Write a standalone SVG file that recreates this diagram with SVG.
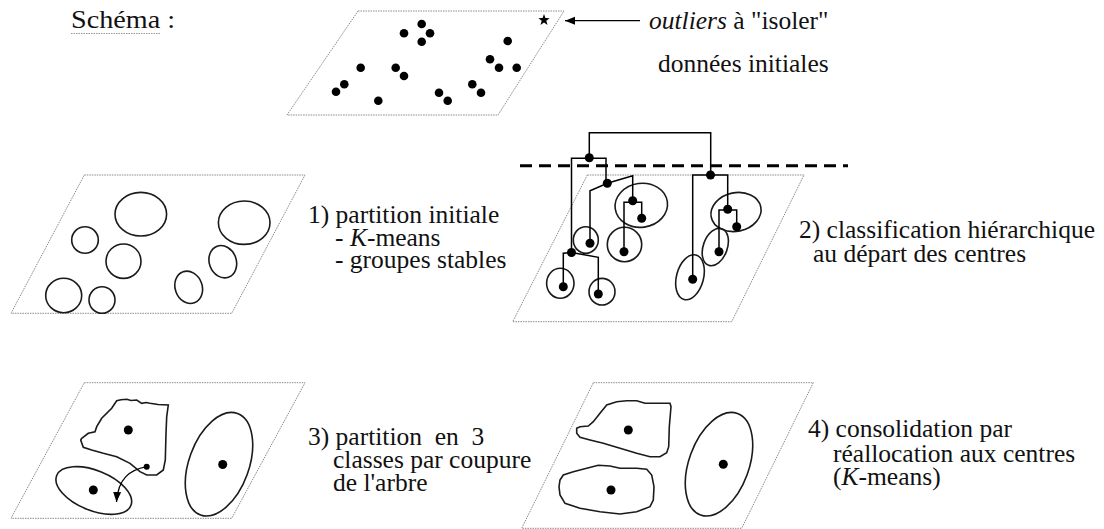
<svg xmlns="http://www.w3.org/2000/svg" width="1104" height="529" viewBox="0 0 1104 529">
<style>
.t{font-family:"Liberation Serif","Times New Roman",serif;font-size:25.5px;fill:#111}
.it{font-style:italic}
.plane{fill:none;stroke:#8a8a8a;stroke-width:1;stroke-dasharray:1.5 1}
.cl{fill:none;stroke:#1a1a1a;stroke-width:1.6}
.dot{fill:#000}
.dl{fill:none;stroke:#000;stroke-width:1.5}
</style>
<defs>
<marker id="arr" markerUnits="userSpaceOnUse" markerWidth="11" markerHeight="9" refX="10" refY="4" orient="auto">
<path d="M0,0 L10,4 L0,8 z" fill="#000"/>
</marker>
</defs>
<g id="title">
<text class="t" x="71" y="28" font-size="26" textLength="104" lengthAdjust="spacingAndGlyphs">Schéma :</text>
<line x1="71" y1="33.5" x2="160" y2="33.5" stroke="#999" stroke-width="1" stroke-dasharray="1.5 1"/>
</g>
<g id="data-initial">
<polygon class="plane" points="358,11 564,11 498,115 287,115"/>
<g class="dot">
<circle cx="421.7" cy="24" r="4.3"/><circle cx="404" cy="33.3" r="4.3"/><circle cx="430" cy="33.3" r="4.3"/><circle cx="421.7" cy="41.7" r="4.3"/>
<circle cx="360.7" cy="67.7" r="4.3"/><circle cx="395.7" cy="67.7" r="4.3"/><circle cx="404" cy="76" r="4.3"/>
<circle cx="490" cy="59.3" r="4.3"/><circle cx="507.7" cy="41" r="4.3"/><circle cx="499" cy="67.7" r="4.3"/><circle cx="516.7" cy="67.7" r="4.3"/>
<circle cx="344.3" cy="84.3" r="4.3"/><circle cx="336" cy="91.7" r="4.3"/><circle cx="378.3" cy="100.7" r="4.3"/>
<circle cx="439" cy="92.7" r="4.3"/><circle cx="447.7" cy="100.7" r="4.3"/><circle cx="472.3" cy="84.3" r="4.3"/><circle cx="481" cy="92.7" r="4.3"/>
</g>
<polygon fill="#000" points="544,14 545.4,18.1 549.7,18.15 546.3,20.74 547.5,24.9 544,22.4 540.5,24.9 541.7,20.74 538.3,18.15 542.6,18.1"/>
</g>
<g id="label-outliers">
<text class="t" x="649" y="29"><tspan class="it">outliers</tspan> à "isoler"</text>
<text class="t" x="658" y="72">données initiales</text>
</g>
<g id="panel-1">
<polygon class="plane" points="84.3,175 305,175 231.7,313.3 11,313.3"/>
<ellipse class="cl" cx="140.8" cy="214.2" rx="25.8" ry="21.8"/>
<ellipse class="cl" cx="85" cy="240" rx="13.3" ry="13.3"/>
<ellipse class="cl" cx="123.5" cy="261.2" rx="17.5" ry="17.2"/>
<ellipse class="cl" cx="63.7" cy="295.5" rx="18" ry="17.2"/>
<ellipse class="cl" cx="102" cy="300" rx="13" ry="13.3"/>
<ellipse class="cl" cx="244.2" cy="222.7" rx="25.8" ry="21.7"/>
<ellipse class="cl" cx="222.8" cy="261.7" rx="13.5" ry="16.5" transform="rotate(-20 222.8 261.7)"/>
<ellipse class="cl" cx="188.7" cy="287.3" rx="13.5" ry="16.5" transform="rotate(-20 188.7 287.3)"/>
</g>
<g id="label-1">
<text class="t" x="308" y="223">1) partition initiale</text>
<text class="t" x="335" y="245.5">- <tspan class="it">K</tspan>-means</text>
<text class="t" x="335" y="268">- groupes stables</text>
</g>
<g id="panel-2">
<polygon class="plane" points="587.3,175 804,175 731.7,321.7 512.7,321.7"/>
<ellipse class="cl" cx="641.3" cy="205.3" rx="26.3" ry="22" transform="rotate(-8 641.3 205.3)"/>
<ellipse class="cl" cx="585.8" cy="240" rx="12.5" ry="13.3"/>
<ellipse class="cl" cx="624.5" cy="244.5" rx="17.2" ry="17.2"/>
<ellipse class="cl" cx="560.3" cy="283.3" rx="13.7" ry="15"/>
<ellipse class="cl" cx="602" cy="291.7" rx="13" ry="13.3"/>
<ellipse class="cl" cx="736" cy="212" rx="25.3" ry="19.3" transform="rotate(-12 736 212)"/>
<ellipse class="cl" cx="715.3" cy="247" rx="12" ry="19.5" transform="rotate(20 715.3 247)"/>
<ellipse class="cl" cx="690" cy="277.3" rx="13.5" ry="23" transform="rotate(15 690 277.3)"/>
</g>
<g id="dendrogram">
<line x1="520" y1="165.7" x2="848" y2="165.7" stroke="#000" stroke-width="3" stroke-dasharray="12 7"/>
<path class="dl" d="M589.3,157.7 V132.7 H710.7 V175"/>
<path class="dl" d="M571.5,252.5 V158.3 H606 V183.3"/>
<path class="dl" d="M590,243.3 V190.7 L607.3,183.3 L632.7,175.7 V200.7"/>
<path class="dl" d="M624,251.7 V202.3 H641.7 V218.3"/>
<path class="dl" d="M563.3,286.7 V253.3 L571.5,252.5 L598.3,257.3 V294"/>
<path class="dl" d="M692.7,279.3 V175 H727.7 V209.3"/>
<path class="dl" d="M719,251.7 V210 H736.7 V226.7"/>
<g class="dot">
<circle cx="589.3" cy="157.7" r="4.5"/><circle cx="710.5" cy="175" r="4.5"/>
<circle cx="607.3" cy="183.3" r="4.5"/><circle cx="632.7" cy="200.7" r="4.5"/>
<circle cx="590" cy="243.3" r="4.5"/><circle cx="624" cy="251.7" r="4.5"/><circle cx="641.7" cy="218.3" r="4.5"/>
<circle cx="571.5" cy="252.5" r="4.5"/><circle cx="563.3" cy="286.7" r="4.5"/><circle cx="598.3" cy="294" r="4.5"/>
<circle cx="727.7" cy="209.3" r="4.5"/><circle cx="719" cy="251.7" r="4.5"/><circle cx="736.7" cy="226.7" r="4.5"/>
<circle cx="692.7" cy="279.3" r="4.5"/>
</g>
</g>
<g id="label-2">
<text class="t" x="799" y="238">2) classification hiérarchique</text>
<text class="t" x="813" y="262">au départ des centres</text>
</g>
<g id="panel-3">
<polygon class="plane" points="84.3,382.7 305,382.7 231.7,518.3 11,518.3"/>
<path class="cl" d="M81.7,438.3 L88.3,433.3 L95,431.7 L96.7,426.7 L101.7,418.3 L111.7,408.3 L116.7,400.7 L121,399.8 L126.7,399.3 L131,400.5 L136.7,400 L141.7,403.3 L146,402.5 L150,403.3 L158,404.5 L168.3,405 L166.7,416.7 L166,433.3 L165.3,460 L163.3,470 L156.7,475 L146.7,475 L140,471.7 L130,463.3 L116.7,456.7 L103.3,453.3 L91.7,450 L83.3,447.3 L80.7,440 Z"/>
<ellipse class="cl" cx="93.8" cy="490.5" rx="40" ry="20" transform="rotate(22 93.8 490.5)"/>
<ellipse class="cl" cx="219" cy="464.2" rx="30" ry="54" transform="rotate(20 219 464.2)"/>
<g class="dot">
<circle cx="128.3" cy="430" r="4.5"/><circle cx="93.3" cy="490" r="4.5"/><circle cx="222.7" cy="464.5" r="4.5"/><circle cx="146.7" cy="466.7" r="3"/>
</g>
</g>
<g id="label-3">
<text class="t" x="308" y="445" xml:space="preserve">3) partition  en  3</text>
<text class="t" x="333" y="468">classes par coupure</text>
<text class="t" x="333" y="491">de l'arbre</text>
</g>
<g id="panel-4">
<polygon class="plane" points="593.3,382.7 813.3,382.7 741.7,528.3 521.7,528.3"/>
<path class="cl" d="M576.7,428.3 L580,426.7 L588.3,426 L593.3,421.7 L600,413.3 L606.7,405 L616.7,401.7 L626.7,400.7 L636.7,400.7 L645,403.3 L670,403.3 L671,406.7 L669.3,426.7 L668.7,446.7 L666.7,452.7 L660,456.7 L650,456.7 L636.7,453.3 L620,448.3 L603.3,443.3 L590,440 L580,437.3 L576.7,433.3 Z"/>
<path class="cl" d="M560,480 L563.3,475 L573.3,471.7 L586.7,468.3 L598.3,465.3 L610,466 L620,468.3 L636.7,468.3 L646.7,469.3 L651.7,475 L654,486.7 L653.3,500 L650,506.7 L636.7,511.7 L620,514 L600,511.7 L580,508.3 L565,503.3 L560,495 L559,486.7 Z"/>
<ellipse class="cl" cx="719" cy="464.2" rx="30" ry="54" transform="rotate(20 719 464.2)"/>
<g class="dot">
<circle cx="628.3" cy="430" r="4.5"/><circle cx="611" cy="490" r="4.5"/><circle cx="723.3" cy="464.3" r="4.5"/>
</g>
</g>
<g id="label-4">
<text class="t" x="808" y="437">4) consolidation par</text>
<text class="t" x="833" y="462">réallocation aux centres</text>
<text class="t" x="833" y="485">(<tspan class="it">K</tspan>-means)</text>
</g>
<g id="connectors">
<line x1="640" y1="20.7" x2="565" y2="20.7" stroke="#000" stroke-width="1.3" marker-end="url(#arr)"/>
<path d="M146.7,466.7 C130,470 118,478 116.5,502" fill="none" stroke="#000" stroke-width="1.3" marker-end="url(#arr)"/>
</g>
</svg>
